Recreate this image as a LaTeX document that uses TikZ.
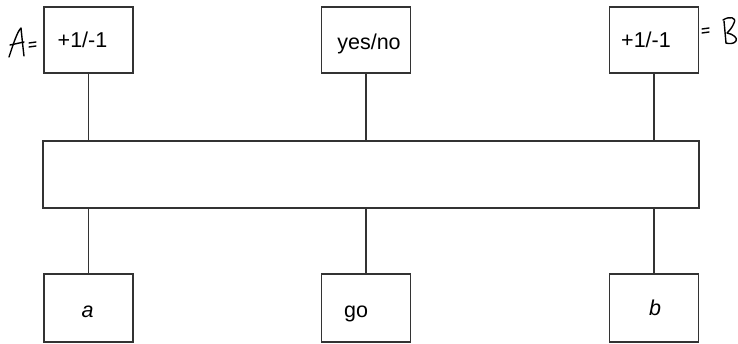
\documentclass[tikz,border=0pt]{standalone}
\usepackage{fontspec}
\setmainfont{Liberation Sans}
\begin{document}
\begin{tikzpicture}[x=1pt,y=-1pt,
  box/.style={draw=black!80,line width=1.2pt,minimum width=89pt,minimum height=66pt,inner sep=0pt},
  bar/.style={draw=black!80,line width=1.2pt,minimum width=656pt,minimum height=67pt,inner sep=0pt},
  wire/.style={draw=black!80,line width=1.1pt},
  ink/.style={line width=1.4pt,line cap=round,line join=round},
  txt/.style={anchor=base,font=\fontsize{21.5}{25}\selectfont,inner sep=0pt}]
\useasboundingbox (0,0) rectangle (738,343);

% top row
\node[box] (ta) at (88.5,40) {};
\node[box] (tm) at (366,40) {};
\node[box] (tb) at (654,40) {};
\node[txt] (ta-t) at ([shift={(-6,7)}]ta.center) {+1/-1};
\node[txt] (tm-t) at ([shift={(3,9)}]tm.center) {yes/no};
\node[txt] (tb-t) at ([shift={(-8,7)}]tb.center) {+1/-1};

% central block
\node[bar] (mid) at (371,174.5) {};

% bottom row
\node[box,minimum height=68pt] (ba) at (88.5,308) {};
\node[box,minimum height=68pt] (bm) at (366,308) {};
\node[box,minimum height=68pt] (bb) at (654,308) {};
\node[txt] (ba-t) at ([shift={(-1,9)}]ba.center) {\itshape a};
\node[txt] (bm-t) at ([shift={(-10,9)}]bm.center) {go};
\node[txt] (bb-t) at ([shift={(1,7)}]bb.center) {\itshape b};

% connectors
\draw[wire] (ta.south) -- (ta.south |- mid.north);
\draw[wire] (tm.south) -- (tm.south |- mid.north);
\draw[wire] (tb.south) -- (tb.south |- mid.north);
\draw[wire] (ba.north) -- (ba.north |- mid.south);
\draw[wire] (bm.north) -- (bm.north |- mid.south);
\draw[wire] (bb.north) -- (bb.north |- mid.south);

% handwritten "A ="
\draw[ink] (9,57) .. controls (13,45) and (17,32) .. (21,28)
           .. controls (22,38) and (23,48) .. (24,56);
\draw[ink] (10,45) -- (24,42);
\draw[ink] (29,43) -- (36,42);
\draw[ink] (29,47) -- (36,46);

% handwritten "= B"
\draw[ink] (702,29) -- (709,28);
\draw[ink] (702,33) -- (709,32);
\draw[ink] (724,21) -- (726,43);
\draw[ink] (723,20) .. controls (729,16) and (737,17) .. (734,23)
           .. controls (732,28) and (729,31) .. (727,33)
           .. controls (733,34) and (738,38) .. (736,41)
           .. controls (734,44) and (729,44) .. (726,43);
\end{tikzpicture}
\end{document}
